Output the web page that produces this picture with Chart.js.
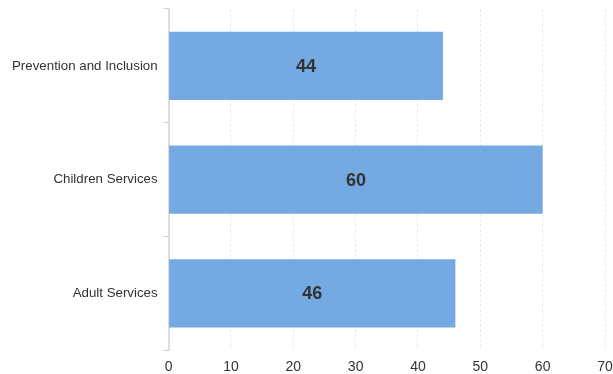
<!DOCTYPE html>
<html>
<head>
<meta charset="utf-8">
<script src="https://cdn.jsdelivr.net/npm/chart.js@4"></script>
<style>
  html, body { margin: 0; padding: 0; background: #fff; }
  #wrap { width: 613px; height: 374px; position: relative; }
</style>
</head>
<body>
<div id="wrap"><canvas id="c"></canvas></div>
<script>
const categories = ['Prevention and Inclusion', 'Children Services', 'Adult Services'];
const values = [44, 60, 46];
const xTicks = [0, 10, 20, 30, 40, 50, 60, 70];

// Draws each bar's value, bold, centred inside the bar
const valueLabels = {
  id: 'valueLabels',
  afterDatasetsDraw(chart) {
    const ctx = chart.ctx;
    const meta = chart.getDatasetMeta(0);
    ctx.save();
    ctx.font = 'bold 18px "Liberation Sans", Arial, sans-serif';
    ctx.fillStyle = '#333333';
    ctx.textAlign = 'center';
    ctx.textBaseline = 'middle';
    meta.data.forEach((bar, i) => {
      const cx = (bar.x + bar.base) / 2;
      ctx.fillText(String(values[i]), cx, bar.y + 1);
    });
    ctx.restore();
  }
};

new Chart(document.getElementById('c'), {
  type: 'bar',
  data: {
    labels: categories,
    datasets: [{
      data: values,
      backgroundColor: '#75a9e1',
      borderWidth: 0,
      categoryPercentage: 0.8,
      barPercentage: 0.75
    }]
  },
  options: {
    indexAxis: 'y',
    responsive: true,
    maintainAspectRatio: false,
    animation: false,
    layout: { padding: { top: 9, right: 8, bottom: -11, left: 6 } },
    plugins: {
      legend: { display: false },
      tooltip: { enabled: false }
    },
    scales: {
      x: {
        min: xTicks[0],
        max: xTicks[xTicks.length - 1],
        afterBuildTicks(axis) { axis.ticks = xTicks.map(v => ({ value: v })); },
        afterFit(axis) { axis.paddingLeft = 0; axis.paddingRight = 0; },
        grid: { color: '#ebebeb', lineWidth: 1, drawTicks: false },
        border: { display: false, dash: [3, 2] },
        ticks: {
          color: '#333333',
          padding: 9,
          font: { family: '"Liberation Sans", Arial, sans-serif', size: 14 }
        }
      },
      y: {
        afterFit(axis) { axis.paddingTop = 0; axis.paddingBottom = 0; },
        grid: { drawOnChartArea: false, color: '#d0d0d0', tickLength: 5, offset: true },
        border: { display: true, color: '#dddddd', width: 2 },
        ticks: {
          color: '#333333',
          padding: 6,
          font: { family: '"Liberation Sans", Arial, sans-serif', size: 13.3 }
        }
      }
    }
  },
  plugins: [valueLabels]
});
</script>
</body>
</html>
